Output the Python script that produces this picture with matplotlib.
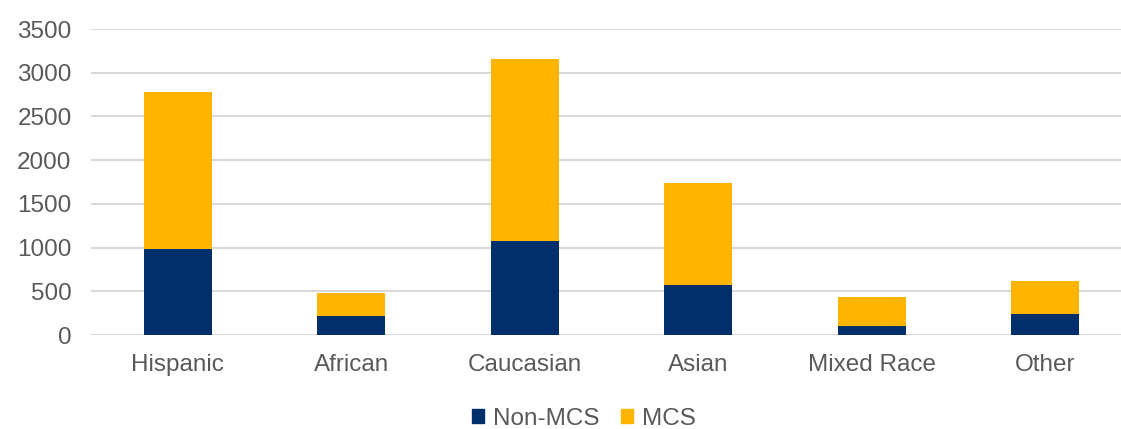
import numpy as np
import matplotlib.pyplot as plt
from matplotlib.patches import Patch

plt.rcParams['font.family'] = ['Liberation Sans', 'DejaVu Sans']

# data
groups = ["Hispanic", "African", "Caucasian", "Asian", "Mixed Race", "Other"]
non_mcs = [980, 220, 1070, 570, 100, 240]
totals = [2780, 480, 3160, 1740, 430, 620]
mcs = [t - n for t, n in zip(totals, non_mcs)]
yticks = [0, 500, 1000, 1500, 2000, 2500, 3000, 3500]

navy = "#002F6C"
gold = "#FFB500"
grey_txt = "#595959"

fig = plt.figure(figsize=(11.21, 4.29), dpi=100)
ax = fig.add_axes([0.0812, 0.2191, 0.9188, 0.7133])

x = np.arange(len(groups))
w = 0.39
ax.bar(x, non_mcs, width=w, color=navy, zorder=3)
ax.bar(x, mcs, width=w, bottom=non_mcs, color=gold, zorder=3)

ax.set_xlim(-0.5, 5.437)
ax.set_ylim(0, 3500)
ax.set_yticks(yticks)
ax.set_xticks(x)
ax.set_xticklabels(groups)
ax.yaxis.grid(True, color="#D9D9D9", linewidth=1.5, zorder=0)
ax.set_axisbelow(True)
for s in ax.spines.values():
    s.set_visible(False)
ax.tick_params(axis="both", length=0, labelsize=17.5, labelcolor=grey_txt)
ax.tick_params(axis="x", pad=14)
ax.tick_params(axis="y", pad=14)

# legend
handles = [Patch(color=navy, label="Non-MCS"), Patch(color=gold, label="MCS")]
fig.legend(handles=handles, loc="center", bbox_to_anchor=(0.521, 0.024),
           ncol=2, frameon=False, fontsize=17.5, labelcolor=grey_txt,
           handlelength=0.5, handleheight=0.5, handletextpad=0.35,
           columnspacing=0.9)

plt.savefig("out.png", dpi=100)
